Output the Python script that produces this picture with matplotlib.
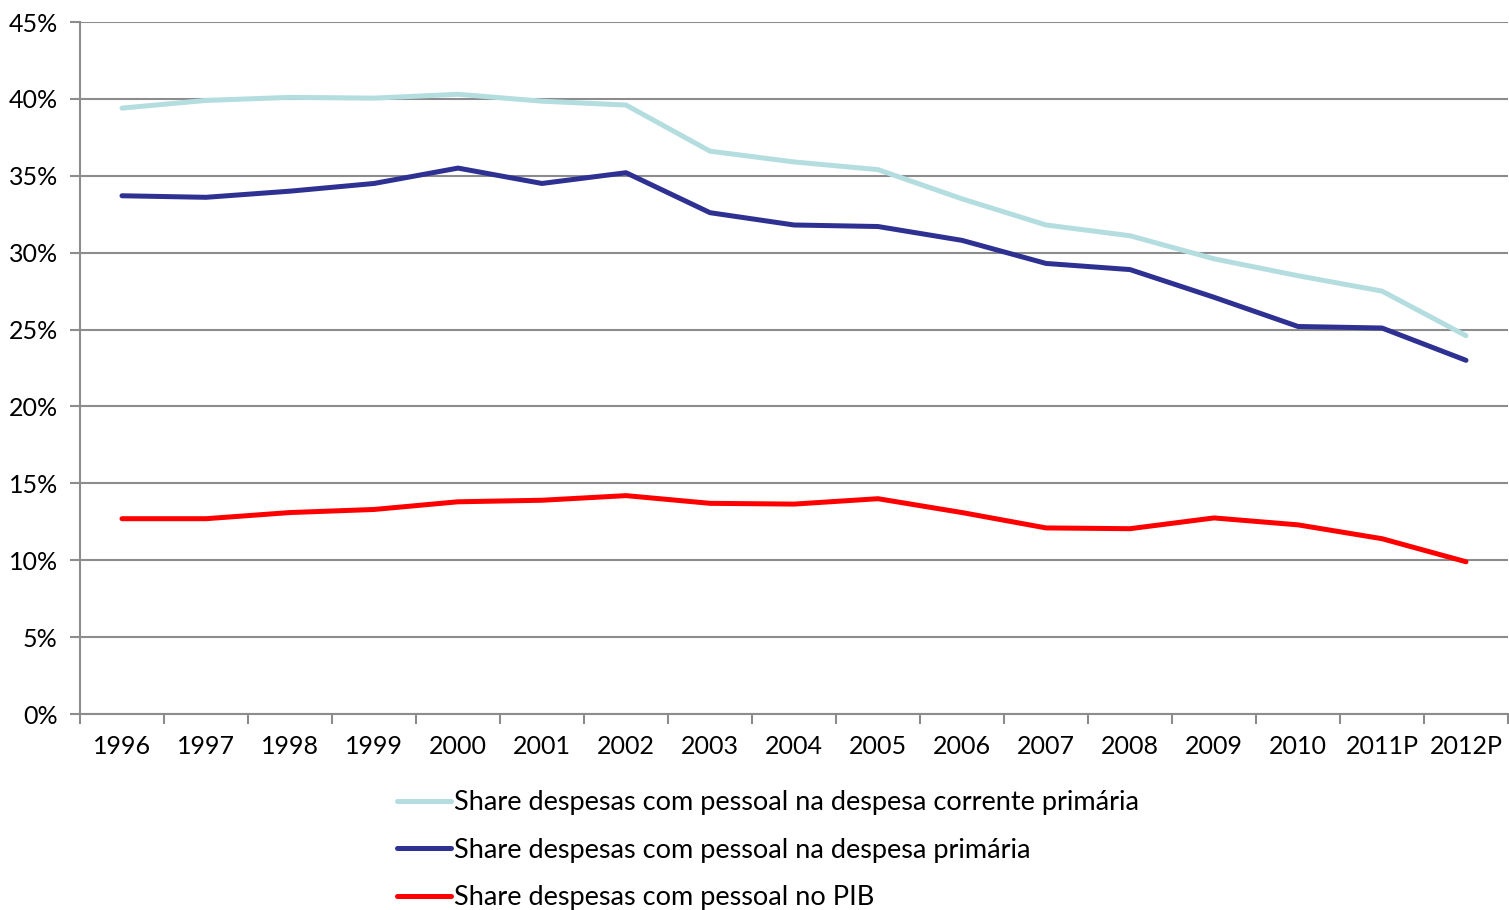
import numpy as np
import matplotlib.pyplot as plt
from matplotlib.ticker import FixedLocator, PercentFormatter

# Data (values in %)
years = ['1996', '1997', '1998', '1999', '2000', '2001', '2002', '2003', '2004',
         '2005', '2006', '2007', '2008', '2009', '2010', '2011P', '2012P']
share_corrente = [39.4, 39.9, 40.1, 40.05, 40.3, 39.85, 39.6, 36.6, 35.9,
                  35.4, 33.5, 31.8, 31.1, 29.6, 28.5, 27.5, 24.6]
share_primaria = [33.7, 33.6, 34.0, 34.5, 35.5, 34.5, 35.2, 32.6, 31.8,
                  31.7, 30.8, 29.3, 28.9, 27.1, 25.2, 25.1, 23.0]
share_pib = [12.7, 12.7, 13.1, 13.3, 13.8, 13.9, 14.2, 13.7, 13.65,
             14.0, 13.1, 12.1, 12.05, 12.75, 12.3, 11.4, 9.9]

labels = ['Share despesas com pessoal na despesa corrente primária',
          'Share despesas com pessoal na despesa primária',
          'Share despesas com pessoal no PIB']
colors = ['#B4DDE0', '#2E3192', '#FF0000']

plt.rcParams['font.family'] = ['Lato', 'DejaVu Sans']

fig = plt.figure(figsize=(15.09, 9.10), dpi=100)
ax = fig.add_axes([80 / 1509, 1 - 714 / 910, 1428 / 1509, 692 / 910])

x = np.arange(len(years))
for y, lab, c in zip([share_corrente, share_primaria, share_pib], labels, colors):
    ax.plot(x, y, color=c, lw=3.6, label=lab, solid_capstyle='round')

ax.set_xlim(-0.5, len(years) - 0.5)
ax.set_ylim(0, 45)
ax.set_yticks(np.arange(0, 46, 5))
ax.yaxis.set_major_formatter(PercentFormatter(decimals=0))
ax.grid(axis='y', color='#8C8C8C', lw=1.5)
ax.set_axisbelow(True)

# category axis: labels centred, tick marks between categories
ax.set_xticks(x)
ax.set_xticklabels(years)
ax.xaxis.set_minor_locator(FixedLocator(np.arange(-0.5, len(years), 1)))
ax.tick_params(axis='x', which='major', length=0, pad=15, labelsize=18)
ax.tick_params(axis='x', which='minor', length=7, width=1.5, color='#8C8C8C')
ax.tick_params(axis='y', length=7, width=1.5, color='#8C8C8C', labelsize=18, pad=9)

for s in ['top', 'right']:
    ax.spines[s].set_visible(False)
for s in ['left', 'bottom']:
    ax.spines[s].set_color('#8C8C8C')
    ax.spines[s].set_linewidth(1.5)

fig.legend(loc='upper left', bbox_to_anchor=(397 / 1509, 1 - 790 / 910),
           frameon=False, fontsize=19.5, handlelength=2.0, handletextpad=0.1,
           labelspacing=0.84, borderaxespad=0, borderpad=0)

fig.savefig('out.png', dpi=100)
